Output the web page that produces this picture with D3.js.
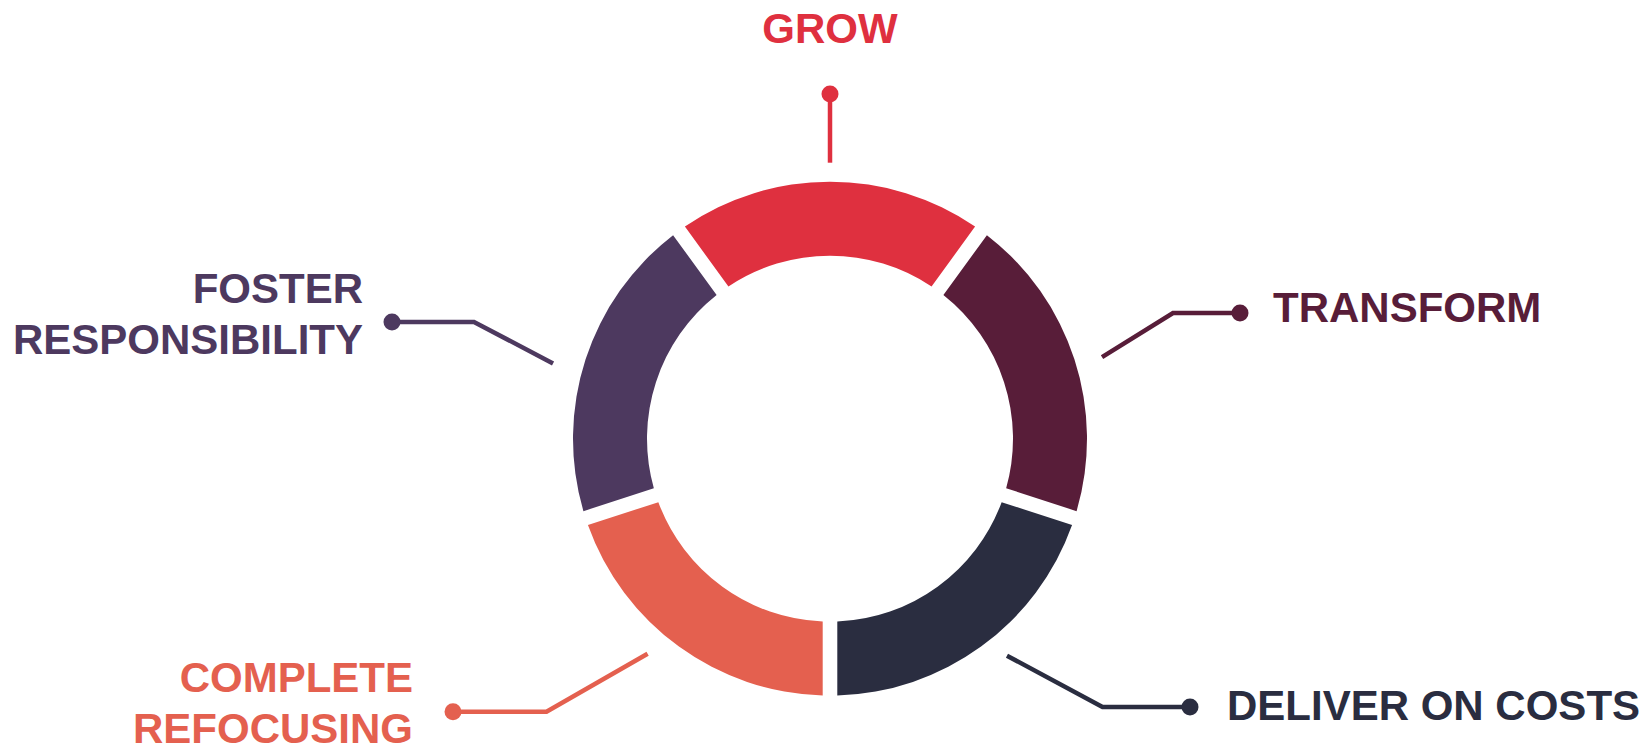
<!DOCTYPE html>
<html>
<head>
<meta charset="utf-8">
<script src="https://cdn.jsdelivr.net/npm/d3@7"></script>
<style>
  html, body { margin: 0; padding: 0; background: #ffffff; }
  svg { display: block; }
  text { font-family: "Liberation Sans", Arial, sans-serif; font-weight: bold; }
</style>
</head>
<body>
<svg id="chart" width="1651" height="745"></svg>
<script>
// ---- data ----
const categories = ["GROW", "TRANSFORM", "DELIVER ON COSTS", "COMPLETE REFOCUSING", "FOSTER RESPONSIBILITY"];
const labelLines = [["GROW"], ["TRANSFORM"], ["DELIVER ON COSTS"], ["COMPLETE", "REFOCUSING"], ["FOSTER", "RESPONSIBILITY"]];
const values = [1, 1, 1, 1, 1];
const colors = ["#DF303F", "#581D39", "#2A2D40", "#E4604F", "#4D395F"];

// ---- layout (annotation geometry, not data) ----
const W = 1651, H = 745;
const cx = 830, cy = 438.7;
const rOuter = 257, rInner = 183;
const gap = 14.6;
// leader start: angle offset (deg) from slice middle, and radius
const leaderOffsetDeg = [0, 1.3, -3.2, 4.3, -2.8];
const leaderR = [276, 284, 280, 282, 287];
// elbow point, dot x, text anchor x, first baseline y, anchor
const annot = [
  { elbow: [830, 94],      dotX: 830,  tx: 830,  ty: 43.3,  anchor: "middle" },
  { elbow: [1173, 313],    dotX: 1240, tx: 1273, ty: 321.7, anchor: "start" },
  { elbow: [1102.5, 707],  dotX: 1190, tx: 1227, ty: 720,   anchor: "start" },
  { elbow: [546.5, 711.8], dotX: 453,  tx: 413,  ty: 691.7, anchor: "end" },
  { elbow: [474, 322],     dotX: 392,  tx: 363,  ty: 302.7, anchor: "end" }
];
const lineGap = 51;
const fontSize = 42;

const svg = d3.select("#chart");
const g = svg.append("g").attr("transform", `translate(${cx},${cy})`);

const pie = d3.pie().sort(null).value(d => d)
  .startAngle(-Math.PI / 5).endAngle(2 * Math.PI - Math.PI / 5);
const padR = 220;
const arc = d3.arc().innerRadius(rInner).outerRadius(rOuter)
  .padRadius(padR).padAngle(gap / padR);

const arcs = pie(values);

g.selectAll("path.seg").data(arcs).join("path")
  .attr("class", "seg")
  .attr("d", arc)
  .attr("fill", (d, i) => colors[i]);

// leader lines
arcs.forEach((d, i) => {
  const mid = (d.startAngle + d.endAngle) / 2 + leaderOffsetDeg[i] * Math.PI / 180;
  const sx = cx + leaderR[i] * Math.sin(mid);
  const sy = cy - leaderR[i] * Math.cos(mid);
  const a = annot[i];
  const pts = [[sx, sy], a.elbow, [a.dotX, a.elbow[1]]];
  svg.append("path")
    .attr("d", d3.line()(pts))
    .attr("fill", "none")
    .attr("stroke", colors[i])
    .attr("stroke-width", 4.5)
    .attr("stroke-linejoin", "miter");
  svg.append("circle")
    .attr("cx", a.dotX).attr("cy", a.elbow[1]).attr("r", 8.5)
    .attr("fill", colors[i]);
  const t = svg.append("text")
    .attr("x", a.tx).attr("y", a.ty)
    .attr("text-anchor", a.anchor)
    .attr("font-size", fontSize)
    .attr("fill", colors[i]);
  labelLines[i].forEach((ln, k) => {
    t.append("tspan").attr("x", a.tx).attr("y", a.ty + k * lineGap).text(ln);
  });
});
</script>
</body>
</html>
